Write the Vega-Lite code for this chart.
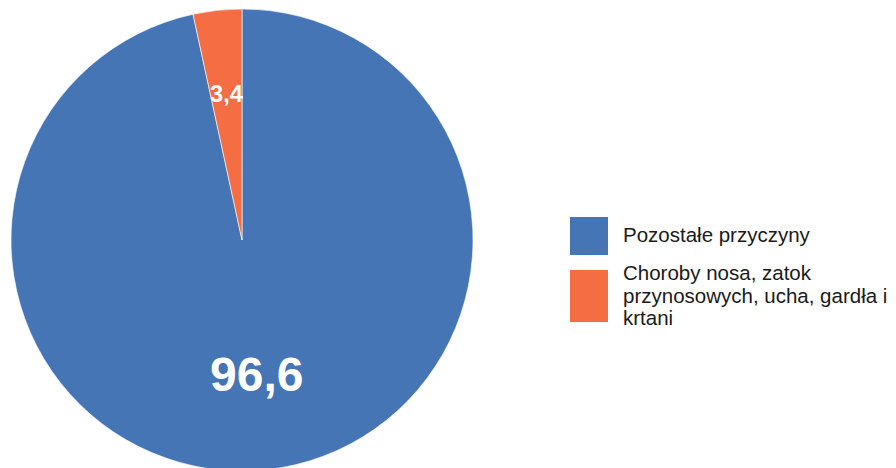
{
  "$schema": "https://vega.github.io/schema/vega-lite/v6.json",
  "autosize": {"type": "none"},
  "width": 484,
  "height": 456,
  "padding": {"left": 0, "top": 12, "right": 412, "bottom": 0},
  "background": "#ffffff",
  "config": {
    "view": {"stroke": null},
    "locale": {"number": {"decimal": ",", "thousands": " ", "grouping": [3], "currency": ["", " zł"]}},
    "font": "Liberation Sans"
  },
  "data": {
    "values": [
      {"category": "Pozostałe przyczyny", "value": 96.6},
      {"category": "Choroby nosa, zatok przynosowych, ucha, gardła i krtani", "value": 3.4}
    ]
  },
  "encoding": {
    "theta": {"field": "value", "type": "quantitative", "stack": true},
    "order": {"field": "value", "type": "quantitative", "sort": "descending"}
  },
  "layer": [
    {
      "mark": {"type": "arc", "outerRadius": 231, "stroke": "#ffffff", "strokeWidth": 0.6},
      "encoding": {
        "color": {
          "field": "category",
          "type": "nominal",
          "scale": {
            "domain": ["Pozostałe przyczyny", "Choroby nosa, zatok przynosowych, ucha, gardła i krtani"],
            "range": ["#4575b4", "#f46d43"]
          },
          "legend": {
            "title": null,
            "orient": "none",
            "legendX": 570,
            "legendY": 205,
            "padding": 0,
            "symbolType": {"expr": "datum.value == 'Pozostałe przyczyny' ? 'square' : 'M-1,-0.21H1V2.53H-1Z'"},
            "symbolSize": 1444,
            "symbolStrokeWidth": 0,
            "symbolOpacity": 1,
            "labelFontSize": 20.5,
            "labelFont": "Liberation Sans",
            "labelColor": "#1a1a1a",
            "labelOffset": 15,
            "labelLimit": 400,
            "rowPadding": -3,
            "labelExpr": "datum.label == 'Pozostałe przyczyny' ? datum.label : ['Choroby nosa, zatok', 'przynosowych, ucha, gardła i', 'krtani']"
          }
        }
      }
    },
    {
      "mark": {"type": "text", "radius": 138, "fontWeight": "bold", "fontSize": 48, "color": "#ffffff", "font": "Liberation Sans"},
      "encoding": {
        "text": {"condition": {"test": "datum.value > 50", "field": "value", "type": "quantitative", "format": ".1f"}, "value": ""}
      }
    },
    {
      "mark": {"type": "text", "radius": 146, "fontWeight": "bold", "fontSize": 23.5, "color": "#ffffff", "font": "Liberation Sans"},
      "encoding": {
        "text": {"condition": {"test": "datum.value < 50", "field": "value", "type": "quantitative", "format": ".1f"}, "value": ""}
      }
    }
  ]
}
